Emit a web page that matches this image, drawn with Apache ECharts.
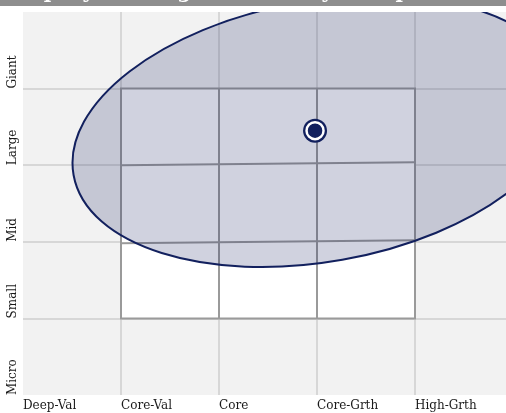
<!DOCTYPE html>
<html><head><meta charset="utf-8">
<script src="https://cdn.jsdelivr.net/npm/echarts@6/dist/echarts.min.js"></script>
<style>html,body{margin:0;padding:0;background:#fff}#c{width:506px;height:413px}</style>
</head><body><div id="c"></div>
<script>
const title = 'Equity Holdings Market Style Map';
const xLabels = ['Deep-Val', 'Core-Val', 'Core', 'Core-Grth', 'High-Grth', ''];
const yLabels = ['Micro', 'Small', 'Mid', 'Large', 'Giant', ''];
// style box boundaries (data units)
const boxColumns = [1, 2, 3, 4];
const boxRowsLeft = [1, 1.98, 3.0, 4];
const boxRowsRight = [1, 2.02, 3.04, 4];
// ownership zone ellipse: centre and ends of its two half-axes
const zoneCenter = [3.026, 3.441];
const zoneMajorEnd = [5.536, 4.010];
const zoneMinorEnd = [3.258, 1.765];
// centroid
const centroid = [2.98, 3.45];

const NAVY = '#12205e';
const chart = echarts.init(document.getElementById('c'), null, {renderer: 'canvas'});

const fontBase = {fontFamily: 'DejaVu Serif', fontSize: 12, color: '#1a1a1a'};

chart.setOption({
  animation: false,
  backgroundColor: '#ffffff',
  graphic: [
    {type: 'rect', left: 0, top: 0, shape: {x: 0, y: 0, width: 506, height: 6}, style: {fill: '#8e8e8e'}, z: 100},
    {type: 'text', x: 22, y: -7.5, z: 101, style: {text: title, fill: '#ffffff', font: 'bold 20px "DejaVu Serif"', verticalAlign: 'middle', align: 'left'}}
  ],
  grid: {left: 23, top: 12, width: 490, height: 383, show: true, backgroundColor: '#f2f2f2', borderWidth: 0, outerBoundsMode: 'none', containLabel: false},
  xAxis: {
    type: 'value', min: 0, max: 5, interval: 1,
    axisLine: {show: false}, axisTick: {show: false},
    splitLine: {show: true, showMinLine: false, showMaxLine: false, lineStyle: {color: '#d7d7d7', width: 2}},
    axisLabel: Object.assign({formatter: v => xLabels[v] || '', align: 'left', margin: 5, showMinLabel: true, showMaxLabel: true}, fontBase)
  },
  yAxis: {
    type: 'value', min: 0, max: 5, interval: 1,
    axisLine: {show: false}, axisTick: {show: false},
    splitLine: {show: true, showMinLine: false, showMaxLine: false, lineStyle: {color: '#d7d7d7', width: 2}},
    axisLabel: Object.assign({formatter: v => yLabels[v] || '', rotate: 90, align: 'left', verticalAlign: 'middle', margin: 10, showMinLabel: true, showMaxLabel: true}, fontBase)
  },
  series: [
    {
      type: 'custom', name: 'Style Box', data: [0], clip: true, z: 2,
      renderItem: function (params, api) {
        const n = boxColumns.length - 1;
        const x0 = boxColumns[0], x1 = boxColumns[n];
        const last = boxRowsLeft.length - 1;
        const stroke = {stroke: '#9a9a9a', lineWidth: 2, fill: null};
        const children = [];
        const poly = [
          api.coord([x0, boxRowsLeft[0]]), api.coord([x1, boxRowsRight[0]]),
          api.coord([x1, boxRowsRight[last]]), api.coord([x0, boxRowsLeft[last]])
        ];
        children.push({type: 'polygon', shape: {points: poly}, style: {fill: '#ffffff', stroke: '#9a9a9a', lineWidth: 2}});
        for (let i = 1; i < last; i++) {
          const a = api.coord([x0, boxRowsLeft[i]]), b = api.coord([x1, boxRowsRight[i]]);
          children.push({type: 'line', shape: {x1: a[0], y1: a[1], x2: b[0], y2: b[1]}, style: stroke});
        }
        for (let j = 1; j < n; j++) {
          const a = api.coord([boxColumns[j], boxRowsLeft[0]]), b = api.coord([boxColumns[j], boxRowsLeft[last]]);
          children.push({type: 'line', shape: {x1: a[0], y1: a[1], x2: b[0], y2: b[1]}, style: stroke});
        }
        return {type: 'group', children: children};
      }
    },
    {
      type: 'custom', name: 'Ownership Zone', data: [0], clip: true, z: 3,
      renderItem: function (params, api) {
        const c = api.coord(zoneCenter), a = api.coord(zoneMajorEnd), b = api.coord(zoneMinorEnd);
        const rx = Math.hypot(a[0] - c[0], a[1] - c[1]);
        const ry = Math.hypot(b[0] - c[0], b[1] - c[1]);
        const rot = -Math.atan2(a[1] - c[1], a[0] - c[0]);
        const cs = params.coordSys;
        return {
          type: 'group',
          clipPath: {type: 'rect', shape: {x: cs.x, y: cs.y, width: cs.width, height: cs.height}},
          children: [{
            type: 'ellipse', shape: {cx: c[0], cy: c[1], rx: rx, ry: ry},
            rotation: rot, originX: c[0], originY: c[1],
            style: {fill: 'rgba(18,32,94,0.2)', stroke: NAVY, lineWidth: 2}
          }]
        };
      }
    },
    {type: 'scatter', name: 'Centroid ring', data: [centroid], symbol: 'circle', symbolSize: 24, itemStyle: {color: NAVY, opacity: 1}, z: 4, silent: true},
    {type: 'scatter', name: 'Centroid', data: [centroid], symbol: 'circle', symbolSize: 17, itemStyle: {color: NAVY, borderColor: '#ffffff', borderWidth: 2.5, opacity: 1}, z: 5, silent: true}
  ]
});
</script></body></html>
